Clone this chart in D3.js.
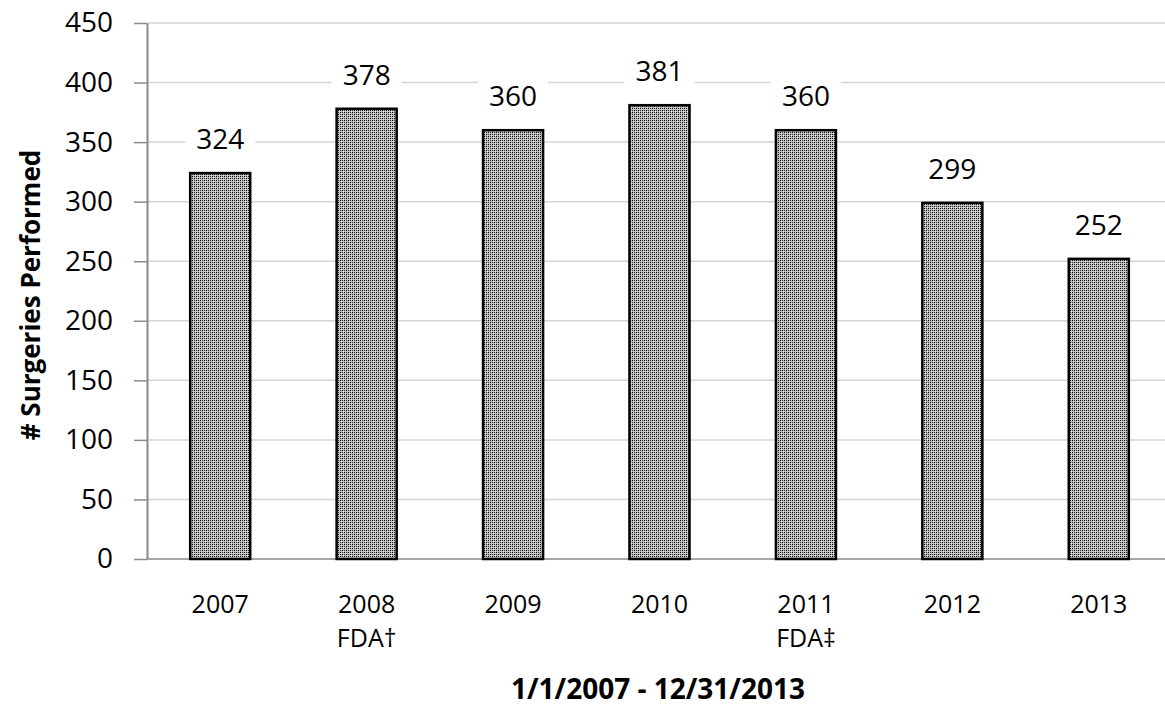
<!DOCTYPE html>
<html>
<head>
<meta charset="utf-8">
<script src="https://cdn.jsdelivr.net/npm/d3@7"></script>
<style>
  html, body { margin: 0; padding: 0; background: #fff; }
  svg { display: block; }
  text { font-family: "Open Sans", "Liberation Sans", sans-serif; fill: #000; }
</style>
</head>
<body>
<svg id="chart" width="1165" height="711"></svg>
<script>
// Annual surgery counts
const years = ["2007", "2008", "2009", "2010", "2011", "2012", "2013"];
const subLabels = ["", "FDA\u2020", "", "", "FDA\u2021", "", ""];
const surgeries = [324, 378, 360, 381, 360, 299, 252];
const yTicks = [0, 50, 100, 150, 200, 250, 300, 350, 400, 450];

(function draw() {
  const svg = d3.select("#chart");
  const W = 1165;
  const plotLeft = 147, plotRight = 1172, plotTop = 23, plotBottom = 559;

  // Dotted fill for the bars
  const defs = svg.append("defs");
  const pat = defs.append("pattern")
    .attr("id", "dots")
    .attr("patternUnits", "userSpaceOnUse")
    .attr("width", 4).attr("height", 4);
  pat.append("rect").attr("width", 4).attr("height", 4).attr("fill", "#bdbdbd");
  [[0, 0], [2, 2]].forEach(([px, py]) =>
    pat.append("rect").attr("x", px).attr("y", py).attr("width", 1).attr("height", 1)
      .attr("fill", "#000").attr("shape-rendering", "crispEdges"));
  [[1, 1], [3, 3]].forEach(([px, py]) =>
    pat.append("rect").attr("x", px).attr("y", py).attr("width", 1).attr("height", 1)
      .attr("fill", "#e6e6e6").attr("shape-rendering", "crispEdges"));
  [[2, 0], [0, 2]].forEach(([px, py]) =>
    pat.append("rect").attr("x", px).attr("y", py).attr("width", 1).attr("height", 1)
      .attr("fill", "#333").attr("shape-rendering", "crispEdges"));

  const x = d3.scaleBand().domain(years).range([plotLeft, plotRight]).paddingInner(0.59).paddingOuter(0.295);
  const y = d3.scaleLinear().domain([0, 450]).range([plotBottom, plotTop]);

  // Gridlines
  svg.append("g").selectAll("line")
    .data(yTicks.filter(t => t > 0))
    .join("line")
    .attr("x1", plotLeft).attr("x2", W)
    .attr("y1", d => y(d)).attr("y2", d => y(d))
    .attr("stroke", "#d4d4d4").attr("stroke-width", 1.5);

  // Y axis
  const yAxis = svg.append("g").attr("transform", `translate(${plotLeft},0)`)
    .call(d3.axisLeft(y).tickValues(yTicks).tickSize(13).tickPadding(21).tickSizeOuter(0));
  yAxis.select(".domain").attr("stroke", "#8a8a8a").attr("stroke-width", 2);
  yAxis.selectAll(".tick line").attr("stroke", "#8a8a8a").attr("stroke-width", 1.5);
  yAxis.selectAll(".tick text").attr("font-size", 28).attr("font-family", "Open Sans, sans-serif").attr("fill", "#000");

  // Baseline
  svg.append("line")
    .attr("x1", plotLeft).attr("x2", W)
    .attr("y1", y(0)).attr("y2", y(0))
    .attr("stroke", "#8a8a8a").attr("stroke-width", 1.5);

  // Bars
  svg.append("g").selectAll("rect")
    .data(years)
    .join("rect")
    .attr("x", d => x(d))
    .attr("y", (d, i) => y(surgeries[i]))
    .attr("width", x.bandwidth())
    .attr("height", (d, i) => y(0) - y(surgeries[i]))
    .attr("fill", "url(#dots)")
    .attr("stroke", "#000").attr("stroke-width", 2.5);

  // Value labels on a white backing
  const vl = svg.append("g").selectAll("g")
    .data(years)
    .join("g")
    .attr("transform", (d, i) => `translate(${x(d) + x.bandwidth() / 2},${y(surgeries[i]) - 24})`);
  vl.append("rect")
    .attr("x", -35).attr("y", -25).attr("width", 70).attr("height", 36)
    .attr("fill", "#fff");
  vl.append("text")
    .attr("text-anchor", "middle")
    .attr("font-size", 28)
    .text((d, i) => surgeries[i]);

  // Category labels
  const xl = svg.append("g").selectAll("g")
    .data(years)
    .join("g")
    .attr("transform", d => `translate(${x(d) + x.bandwidth() / 2},0)`);
  xl.append("text").attr("text-anchor", "middle").attr("y", 613).attr("font-size", 25).text(d => d);
  xl.append("text").attr("text-anchor", "middle").attr("y", 647).attr("font-size", 25).text((d, i) => subLabels[i]);

  // Axis titles
  svg.append("text")
    .attr("transform", `translate(40,295) rotate(-90)`)
    .attr("text-anchor", "middle")
    .attr("font-size", 26).attr("font-weight", "bold")
    .text("# Surgeries Performed");
  svg.append("text")
    .attr("x", 658).attr("y", 699)
    .attr("text-anchor", "middle")
    .attr("font-size", 28).attr("font-weight", "bold")
    .text("1/1/2007 - 12/31/2013");
})();
</script>
</body>
</html>
